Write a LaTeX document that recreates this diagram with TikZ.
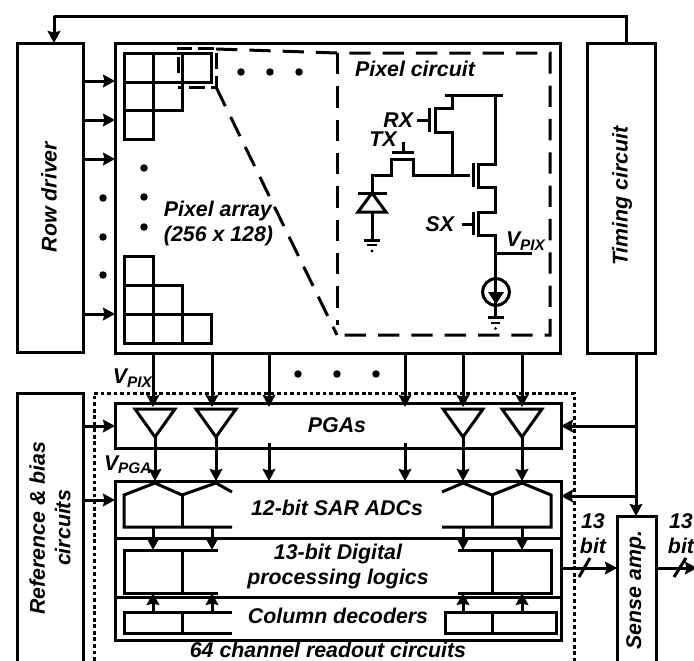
\documentclass[tikz,border=0pt]{standalone}
\usepackage{fontspec}
\setmainfont{Liberation Sans}
\usetikzlibrary{arrows.meta,calc}
\newcommand{\lblfont}{\fontsize{16}{19}\selectfont\bfseries\itshape}
\newcommand{\subfont}{\fontsize{11.5}{11.5}\selectfont\bfseries\itshape}
\newcommand{\vsub}[1]{V\raisebox{-2.5pt}{\subfont #1}}
\newcommand{\boxnode}[5]{\node[boxst,minimum width={(#4-#2)*0.75pt},minimum height={(#5-#3)*0.75pt}] (#1) at ({(#2+#4)/2},{(#3+#5)/2}) {};}
\tikzset{
  boxst/.style={draw=black,line width=2.25pt,inner sep=0pt,outer sep=0pt,fill=none},
  lbl/.style={font=\lblfont,inner sep=0pt,outer sep=0pt,align=center,text=black},
  arr/.style={line width=2.25pt,-{Stealth[length=9pt,width=9.5pt,inset=1.2pt]}},
  wire/.style={line width=2.25pt},
  grid/.style={line width=2.25pt},
  bigdash/.style={line width=2.25pt,dash pattern=on 16pt off 9pt},
  smalldash/.style={line width=2.25pt,dash pattern=on 12pt off 5pt},
  dotbox/.style={line width=2.25pt,dash pattern=on 2.8pt off 2.1pt},
  dotf/.style={fill=black}
}
\begin{document}
\begin{tikzpicture}[x=0.75pt,y=-0.75pt]
\clip (0,0) rectangle (694,661);
\fill[white] (0,0) rectangle (694,661);
% main blocks
\boxnode{row}{17}{43}{83}{352}
\boxnode{main}{115}{43}{560}{353}
\boxnode{timing}{587}{43}{655}{353}
\boxnode{ref}{17}{393}{83}{690}
\boxnode{pga}{115}{403}{561}{448}
\boxnode{adc}{115}{481}{561}{640}
\boxnode{sense}{617}{516}{656}{690}
\node[lbl,rotate=90] (rowt) at (49,197) {Row driver};
\node[lbl,rotate=90] (timt) at (622,196) {Timing circuit};
\node[lbl,rotate=90] (reft) at (50,528) {Reference \& bias\\circuits};
\node[lbl,rotate=90] (sent) at (636,590) {Sense amp.};
% feedback
\coordinate (fbtop) at (626,16);
\coordinate (fbleft) at (54,16);
\draw[wire] (timing.north -| fbtop) -- (fbtop) -- (fbleft);
\draw[arr] (fbleft) -- (row.north -| fbleft);
% row arrows
\foreach \y in {81,120,159,314} \draw[arr] (row.east |- 0,\y) -- (main.west |- 0,\y);
\foreach \y in {198,237,275} \fill[dotf] (103,\y) circle (2.8pt);
% pixel grid
\draw[grid] (124,53) rectangle (153,82) (153,53) rectangle (182,82) (182,53) rectangle (211,82)
  (124,82) rectangle (153,110) (153,82) rectangle (182,110) (124,110) rectangle (153,139);
\draw[grid] (124,256) rectangle (153,285) (124,285) rectangle (153,314) (153,285) rectangle (182,314)
  (124,314) rectangle (153,343) (153,314) rectangle (182,343) (182,314) rectangle (211,343);
\foreach \x in {241,270,299} \fill[dotf] (\x,72) circle (2.8pt);
\foreach \y in {168,197,227} \fill[dotf] (144,\y) circle (2.8pt);
\node[lbl,align=left] (arrt) at (218.5,223.5) {Pixel array\\(256 x 128)};
% dashed zoom
\draw[smalldash] (178,73) -- (178,48) -- (216,48) -- (216,87) -- (178,87);
\draw[bigdash] (216,49) -- (337,53) -- (550,53) -- (550,335) -- (340,335);
\draw[bigdash] (337,53) -- (337,325);
\draw[bigdash] (216,87) -- (337,335);
\node[lbl] (pixt) at (415,69) {Pixel circuit};
% pixel circuit
\draw[wire] (445,95) -- (503,95);
\draw[wire] (452,95) -- (452,108) -- (435,108) -- (435,132) -- (452,132) -- (452,175);
\draw[wire] (429,108) -- (429,132);
\draw[wire] (417,120) -- (429,120);
\node[lbl,anchor=east] (rxt) at (413,120) {RX};
\draw[wire] (403,142) -- (403,152);
\draw[wire] (392,152) -- (414,152);
\draw[wire] (372,193) -- (372,175) -- (391,175) -- (391,159) -- (413,159) -- (413,175) -- (470,175);
\node[lbl] (txt) at (383,139) {TX};
\draw[wire] (473,163) -- (473,187);
\draw[wire] (495,95) -- (495,164) -- (478,164) -- (478,187) -- (495,187) -- (495,212) -- (478,212) -- (478,235) -- (495,235) -- (495,288);
\draw[wire] (473,212) -- (473,235);
\draw[wire] (462,224) -- (473,224);
\node[lbl,anchor=east] (sxt) at (454,224) {SX};
\draw[wire] (495,253) -- (532,253);
\node[lbl,anchor=west] (vpx) at (506,241) {\vsub{PIX}};
\draw[wire] (496,292) circle (10pt);
\fill (488,292) -- (504,292) -- (496,304) -- cycle;
\draw[wire] (495,279) -- (495,317);
\draw[wire] (488,317) -- (504,317);
\draw[line width=1.7pt] (491,323) -- (500,323);
\fill (495.5,328.5) circle (1.3pt);
% diode
\draw[wire] (358,193) -- (387,193);
\draw[wire,line join=miter] (372,193) -- (386,212) -- (358,212) -- cycle;
\draw[wire] (372,212) -- (372,239);
\draw[wire] (364,240) -- (380,240);
\draw[line width=1.7pt] (367,245) -- (377,245);
\fill (372,251) circle (1.3pt);
% array to PGA arrows
\foreach \x in {153,212,269,405,463,522}
  \draw[arr] (main.south -| \x,0) -- (\x,407);
\foreach \x in {298,337,376} \fill[dotf] (\x,374) circle (2.8pt);
\node[lbl,anchor=west] (vpixl) at (113,378) {\vsub{PIX}};
% dotted box
\draw[dotbox] (94,700) -- (94,393) -- (574,393) -- (574,700);
% PGA triangles and outputs
\foreach \n/\x in {a/155,b/216,c/463,d/522} {
  \draw[line width=2.25pt,line join=miter] (\x-20,409) -- (\x+20,409) -- (\x,437) -- cycle;
  \coordinate (tip\n) at (\x,437);
  \draw[arr] (tip\n) -- (adc.north -| tip\n);
}
\foreach \x in {269,405} \draw[arr] (\x,443) -- (adc.north -| \x,0);
\node[lbl] (pgat) at (337,425) {PGAs};
\node[lbl,anchor=west] (vpgal) at (104,465) {\vsub{PGA}};
% left/right feeds
\draw[arr] (ref.east |- 0,426) -- (pga.west |- 0,426);
\draw[arr] (ref.east |- 0,500) -- (adc.west |- 0,500);
\coordinate (tdn) at (636,353);
\draw[arr] (timing.south -| tdn) -- (sense.north -| tdn);
\draw[arr] (636,426) -- (pga.east |- 0,426);
\draw[arr] (636,496) -- (adc.east |- 0,496);
% ADC section
\draw[wire] (115,538) -- (561,538) (115,597) -- (561,597);
\draw[wire] (232,527) -- (124,527) -- (124,495) -- (155,483) -- (182,495) -- (216,483) -- (232,492);
\draw[wire] (182,495) -- (182,527);
\draw[wire] (442,527) -- (551,527) -- (551,495) -- (522,483) -- (492,495) -- (463,483) -- (442,492);
\draw[wire] (492,495) -- (492,527);
\node[lbl] (adct) at (337,508) {12-bit SAR ADCs};
\foreach \x in {153,212,463,522} \draw[arr] (\x,527) -- (\x,550);
% Digital
\draw[wire] (218,550) -- (124,550) -- (124,593) -- (218,593) (182,550) -- (182,593);
\draw[wire] (458,550) -- (551,550) -- (551,593) -- (458,593) (492,550) -- (492,593);
\node[lbl] (digt) at (338,566.5) {13-bit Digital\\processing logics};
% decoders
\draw[wire] (232,612) -- (124,612) -- (124,633) -- (232,633) (182,612) -- (182,633);
\draw[wire] (445,612) -- (556,612) -- (556,633) -- (445,633) -- cycle (492,612) -- (492,633);
\foreach \x in {153,212,463,522} \draw[arr] (\x,612) -- (\x,593);
\node[lbl] (dect) at (338,616) {Column decoders};
\node[lbl] (rot) at (328,650) {64 channel readout circuits};
% outputs
\draw[arr] (adc.east |- 0,568) -- (sense.west |- 0,568);
\draw[wire] (579,577) -- (590,558);
\node[lbl] (b1) at (593,533.5) {13\\bit};
\draw[arr] (sense.east |- 0,568) -- (697,568);
\draw[wire] (674,577) -- (686,558);
\node[lbl] (b2) at (681,533.5) {13\\bit};
\end{tikzpicture}
\end{document}
